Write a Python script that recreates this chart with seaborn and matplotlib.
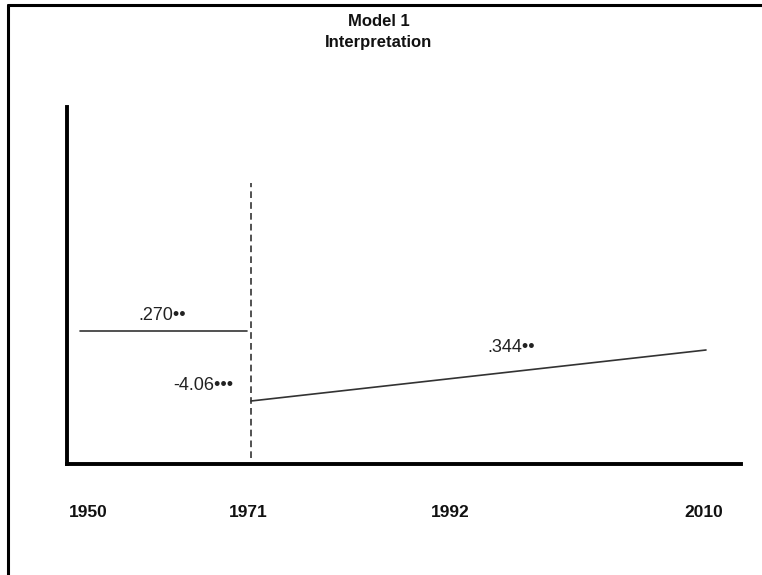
import matplotlib
matplotlib.use('Agg')
import matplotlib.pyplot as plt
import seaborn as sns
from matplotlib.lines import Line2D

# schematic positions along the time axis (drawing units, not years)
tick_labels = ['1950', '1971', '1992', '2010']
tick_pos = [21, 181, 383, 637]

# segment before the break (1950-1971)
pre_x = [13, 180]
pre_y = [133, 133]

# break line at 1971
break_x = [184, 184]
break_y = [6, 281]

# segment after the break (1971-2010)
post_x = [184, 639]
post_y = [63, 114]

# coefficient labels
coef_text = ['.270\u2022\u2022', '-4.06\u2022\u2022\u2022', '.344\u2022\u2022']
coef_x = [95, 136, 444]
coef_y = [149, 79, 117]

sns.set_style('white')
plt.rcParams['font.family'] = ['Liberation Sans', 'DejaVu Sans']

fig = plt.figure(figsize=(7.62, 5.75), dpi=100)
ax = fig.add_axes([67/762, 1-464/575, (741-67)/762, (464-107)/575])

# lines
sns.lineplot(x=pre_x, y=pre_y, ax=ax, color='#333333', linewidth=1.2)
sns.lineplot(x=post_x, y=post_y, ax=ax, color='#333333', linewidth=1.2)
ax.plot(break_x, break_y, color='#333333', linewidth=1.2, linestyle=(0, (4, 2.5)))

# coefficient labels
for t, x, y in zip(coef_text, coef_x, coef_y):
    ax.text(x, y, t, ha='center', va='center', fontsize=13, color='#222222')

# axes format
ax.set_xlim(0, 674)
ax.set_ylim(0, 357)
ax.set_xticks(tick_pos)
ax.set_xticklabels(tick_labels, fontweight='bold', fontsize=12.5, color='#111111')
ax.set_yticks([])
ax.tick_params(axis='x', length=0, pad=29.5)
for s in ['top', 'right']:
    ax.spines[s].set_visible(False)
for s in ['left', 'bottom']:
    ax.spines[s].set_linewidth(2.8)
    ax.spines[s].set_color('black')

# title
fig.text(379/762, 1-14/575, 'Model 1\nInterpretation', ha='center', va='top',
         fontsize=12, fontweight='bold', linespacing=1.5, color='#111111')

# partial frame (top and left edges)
fig.add_artist(Line2D([8/762, 1.0], [1-4.5/575, 1-4.5/575], transform=fig.transFigure, color='black', linewidth=2.2))
fig.add_artist(Line2D([8/762, 8/762], [0.0, 1-4.5/575], transform=fig.transFigure, color='black', linewidth=2.2))

plt.savefig('out.png', dpi=100)
plt.close()
